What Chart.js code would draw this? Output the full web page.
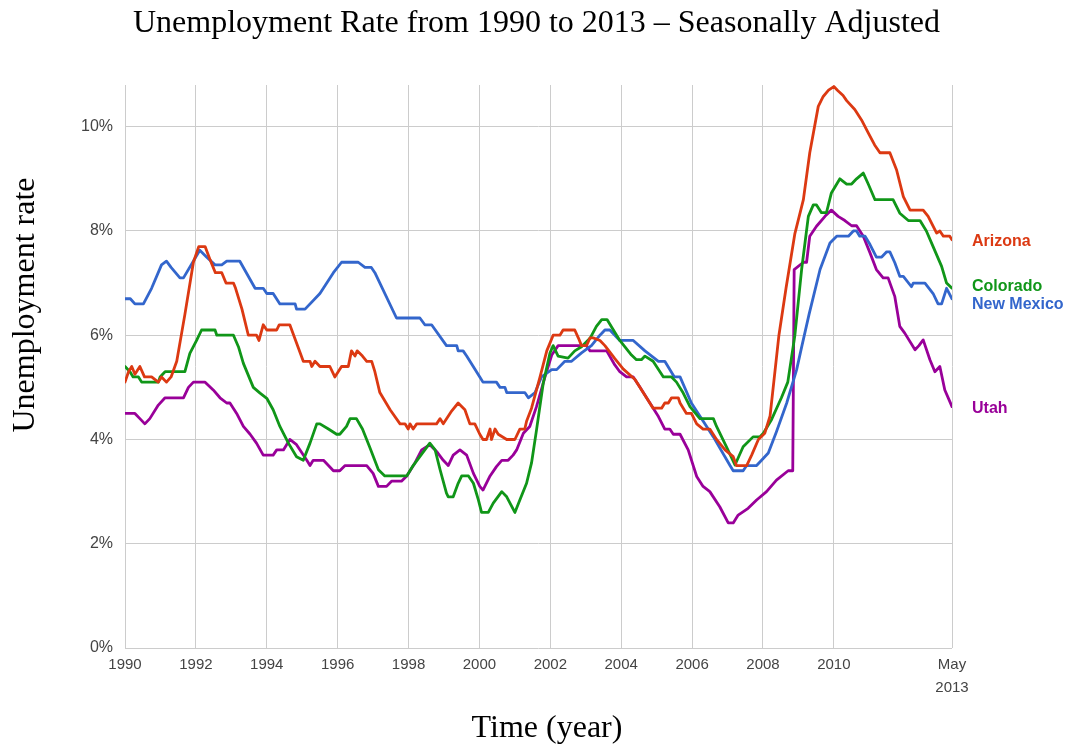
<!DOCTYPE html>
<html><head><meta charset="utf-8">
<script src="https://cdn.jsdelivr.net/npm/chart.js@4.4.0/dist/chart.umd.min.js"></script>
<style>html,body{margin:0;padding:0;background:#fff;}#wrap{width:1073px;height:744px;position:relative;}</style>
</head><body><div id="wrap"><canvas id="c" width="1073" height="744"></canvas></div>
<script>
const chartTitle = 'Unemployment Rate from 1990 to 2013 \u2013 Seasonally Adjusted';
const xAxisTitle = 'Time (year)';
const yAxisTitle = 'Unemployment rate';
const seriesNames = ['Arizona', 'Colorado', 'New Mexico', 'Utah'];
const seriesColors = ['#dc3912', '#109618', '#3366cc', '#990099'];

const xTickValues = [1990, 1992, 1994, 1996, 1998, 2000, 2002, 2004, 2006, 2008, 2010, 2013.333];
const xTickLabels = ['1990', '1992', '1994', '1996', '1998', '2000', '2002', '2004', '2006', '2008', '2010', ['May', '2013']];
const yTickValues = [0, 2, 4, 6, 8, 10];
const yTickLabels = ['0%', '2%', '4%', '6%', '8%', '10%'];

const azYears = [1990.0,1990.1,1990.19,1990.28,1990.42,1990.55,1990.75,1990.94,1991.03,1991.17,1991.3,1991.46,1991.69,1991.93,1992.08,1992.26,1992.4,1992.55,1992.73,1992.85,1993.06,1993.12,1993.3,1993.48,1993.71,1993.78,1993.9,1994.0,1994.28,1994.35,1994.65,1994.84,1995.03,1995.22,1995.27,1995.36,1995.5,1995.78,1995.92,1996.11,1996.3,1996.39,1996.49,1996.55,1996.7,1996.82,1996.96,1997.05,1997.19,1997.48,1997.76,1997.9,1997.99,1998.04,1998.13,1998.23,1998.79,1998.89,1998.98,1999.22,1999.4,1999.59,1999.73,1999.87,2000.01,2000.1,2000.2,2000.3,2000.34,2000.44,2000.53,2000.77,2001.0,2001.14,2001.28,2001.33,2001.47,2001.71,2001.9,2002.08,2002.27,2002.36,2002.69,2002.79,2002.88,2003.02,2003.12,2003.21,2003.4,2003.54,2003.82,2004.06,2004.39,2004.62,2004.9,2005.14,2005.23,2005.33,2005.42,2005.61,2005.66,2005.84,2005.98,2006.13,2006.31,2006.5,2006.69,2006.93,2007.16,2007.25,2007.54,2007.68,2007.87,2008.05,2008.2,2008.45,2008.65,2008.9,2009.14,2009.32,2009.56,2009.7,2009.85,2010.0,2010.1,2010.26,2010.36,2010.59,2010.78,2010.97,2011.15,2011.3,2011.58,2011.77,2011.96,2012.15,2012.52,2012.66,2012.9,2012.99,2013.09,2013.27,2013.333];
const azRates = [5.1,5.3,5.4,5.25,5.4,5.2,5.2,5.1,5.2,5.1,5.2,5.5,6.4,7.4,7.7,7.7,7.45,7.2,7.2,7.0,7.0,6.9,6.5,6.0,6.0,5.9,6.2,6.1,6.1,6.2,6.2,5.85,5.5,5.5,5.4,5.5,5.4,5.4,5.2,5.4,5.4,5.7,5.6,5.7,5.6,5.5,5.5,5.3,4.9,4.57,4.3,4.3,4.2,4.3,4.2,4.3,4.3,4.4,4.3,4.55,4.7,4.57,4.3,4.3,4.1,4.0,4.0,4.2,4.0,4.2,4.1,4.0,4.0,4.2,4.2,4.35,4.6,5.2,5.7,6.0,6.0,6.1,6.1,5.95,5.8,5.8,5.95,5.95,5.9,5.8,5.55,5.35,5.15,4.9,4.6,4.6,4.7,4.7,4.8,4.8,4.7,4.5,4.5,4.3,4.2,4.2,4.0,3.8,3.67,3.5,3.5,3.7,4.0,4.12,4.45,6.0,6.9,7.95,8.6,9.5,10.39,10.58,10.7,10.77,10.7,10.6,10.5,10.33,10.13,9.88,9.65,9.5,9.5,9.17,8.66,8.4,8.4,8.28,7.96,8.0,7.9,7.9,7.83];

const coYears = [1990.0,1990.14,1990.23,1990.38,1990.47,1990.94,1990.99,1991.13,1991.69,1991.83,1992.02,1992.16,1992.54,1992.59,1993.06,1993.2,1993.34,1993.62,1993.81,1994.0,1994.18,1994.37,1994.61,1994.84,1995.03,1995.22,1995.41,1995.5,1995.74,1995.97,1996.06,1996.25,1996.35,1996.53,1996.7,1996.9,1997.15,1997.33,1997.95,1998.13,1998.6,1998.75,1998.89,1999.07,1999.12,1999.26,1999.4,1999.5,1999.69,1999.83,1999.97,2000.06,2000.25,2000.39,2000.63,2000.77,2001.0,2001.14,2001.33,2001.47,2001.61,2001.8,2001.99,2002.08,2002.22,2002.5,2002.69,2002.88,2003.12,2003.3,2003.45,2003.6,2003.78,2003.96,2004.29,2004.43,2004.57,2004.67,2004.9,2005.19,2005.42,2005.56,2005.75,2005.94,2006.22,2006.6,2006.69,2006.97,2007.21,2007.44,2007.72,2007.91,2008.01,2008.24,2008.52,2008.7,2008.9,2009.09,2009.28,2009.42,2009.51,2009.65,2009.79,2009.93,2010.17,2010.36,2010.5,2010.64,2010.83,2010.97,2011.16,2011.67,2011.86,2012.1,2012.43,2012.61,2012.8,2013.04,2013.18,2013.333];
const coRates = [5.4,5.3,5.2,5.2,5.1,5.1,5.2,5.3,5.3,5.65,5.9,6.1,6.1,6.0,6.0,5.78,5.46,5.0,4.89,4.79,4.57,4.25,3.93,3.67,3.6,3.93,4.3,4.3,4.2,4.1,4.1,4.25,4.4,4.4,4.2,3.86,3.42,3.3,3.3,3.5,3.93,3.8,3.42,2.97,2.9,2.9,3.16,3.3,3.3,3.16,2.84,2.6,2.6,2.78,3.0,2.9,2.6,2.84,3.16,3.55,4.18,5.08,5.66,5.8,5.6,5.56,5.7,5.78,5.94,6.17,6.3,6.3,6.1,5.9,5.62,5.53,5.53,5.6,5.5,5.2,5.2,5.1,4.89,4.63,4.4,4.4,4.25,3.86,3.51,3.86,4.05,4.05,4.12,4.38,4.8,5.1,6.0,7.26,8.28,8.5,8.5,8.35,8.35,8.73,9.0,8.9,8.9,9.0,9.11,8.9,8.6,8.6,8.34,8.2,8.2,8.0,7.7,7.32,7.0,6.9];

const nmYears = [1990.0,1990.15,1990.28,1990.52,1990.75,1991.03,1991.17,1991.3,1991.55,1991.65,1992.11,1992.3,1992.54,1992.73,1992.87,1993.24,1993.67,1993.9,1994.0,1994.18,1994.37,1994.8,1994.84,1995.08,1995.5,1995.88,1996.11,1996.58,1996.77,1996.95,1997.05,1997.66,1998.32,1998.46,1998.65,1999.07,1999.36,1999.4,1999.54,1999.64,2000.01,2000.1,2000.48,2000.58,2000.72,2000.77,2001.28,2001.38,2001.57,2001.75,2002.04,2002.18,2002.41,2002.6,2002.88,2003.16,2003.4,2003.54,2003.68,2003.96,2004.34,2004.67,2005.05,2005.23,2005.5,2005.66,2005.98,2006.36,2006.6,2007.07,2007.16,2007.44,2007.54,2007.82,2007.96,2008.15,2008.38,2008.67,2008.95,2009.1,2009.3,2009.61,2009.89,2010.08,2010.41,2010.55,2010.64,2010.73,2010.88,2011.02,2011.2,2011.35,2011.49,2011.58,2011.72,2011.86,2011.96,2012.19,2012.24,2012.57,2012.8,2012.94,2013.04,2013.18,2013.333];
const nmRates = [6.7,6.7,6.6,6.6,6.9,7.35,7.42,7.3,7.1,7.1,7.63,7.5,7.35,7.35,7.42,7.42,6.9,6.9,6.8,6.8,6.6,6.6,6.5,6.5,6.8,7.2,7.4,7.4,7.3,7.3,7.2,6.33,6.33,6.2,6.2,5.8,5.8,5.7,5.7,5.6,5.2,5.1,5.1,5.0,5.0,4.9,4.9,4.8,4.9,5.2,5.34,5.34,5.5,5.5,5.66,5.8,6.0,6.1,6.1,5.9,5.9,5.7,5.5,5.5,5.2,5.2,4.7,4.3,4.05,3.5,3.4,3.4,3.5,3.5,3.6,3.74,4.15,4.7,5.34,5.8,6.4,7.26,7.77,7.9,7.9,8.0,8.0,7.9,7.9,7.74,7.5,7.5,7.6,7.6,7.39,7.13,7.13,6.93,7.0,7.0,6.8,6.6,6.6,6.9,6.7];

const utYears = [1990.0,1990.28,1990.42,1990.56,1990.7,1990.94,1991.13,1991.65,1991.79,1991.93,1992.26,1992.49,1992.68,1992.87,1992.96,1993.15,1993.34,1993.53,1993.71,1993.9,1994.18,1994.28,1994.47,1994.65,1994.84,1995.13,1995.22,1995.31,1995.6,1995.88,1996.06,1996.21,1996.82,1997.0,1997.15,1997.38,1997.52,1997.8,1997.95,1998.18,1998.37,1998.6,1998.79,1998.98,1999.12,1999.26,1999.45,1999.64,1999.83,2000.01,2000.1,2000.3,2000.48,2000.63,2000.81,2000.95,2001.05,2001.24,2001.42,2001.61,2001.85,2002.04,2002.22,2003.02,2003.12,2003.59,2003.82,2003.96,2004.15,2004.34,2004.53,2004.81,2005.05,2005.23,2005.37,2005.47,2005.66,2005.89,2006.13,2006.31,2006.5,2006.78,2007.02,2007.16,2007.3,2007.58,2007.82,2008.1,2008.38,2008.71,2008.84,2008.88,2009.14,2009.23,2009.32,2009.51,2009.75,2009.93,2010.12,2010.31,2010.5,2010.64,2010.83,2011.02,2011.2,2011.39,2011.53,2011.72,2011.86,2012.0,2012.29,2012.4,2012.52,2012.71,2012.85,2012.99,2013.13,2013.333];
const utRates = [4.5,4.5,4.4,4.3,4.4,4.66,4.8,4.8,5.0,5.1,5.1,4.95,4.8,4.7,4.7,4.5,4.25,4.1,3.93,3.7,3.7,3.8,3.8,4.0,3.9,3.6,3.5,3.6,3.6,3.4,3.4,3.5,3.5,3.35,3.1,3.1,3.2,3.2,3.3,3.55,3.8,3.9,3.77,3.6,3.5,3.7,3.8,3.7,3.35,3.1,3.03,3.3,3.48,3.6,3.6,3.7,3.8,4.12,4.25,4.63,5.2,5.62,5.8,5.8,5.7,5.7,5.43,5.3,5.2,5.2,5.0,4.7,4.44,4.2,4.2,4.1,4.1,3.8,3.29,3.1,3.0,2.71,2.4,2.4,2.55,2.68,2.84,3.0,3.22,3.4,3.4,7.26,7.4,7.4,7.9,8.09,8.28,8.4,8.28,8.2,8.1,8.1,7.9,7.58,7.26,7.1,7.1,6.74,6.17,6.04,5.72,5.8,5.91,5.53,5.3,5.4,4.95,4.63];

const seriesYears = [azYears, coYears, nmYears, utYears];
const seriesRates = [azRates, coRates, nmRates, utRates];

const datasets = seriesNames.map((name, i) => ({
  label: name,
  data: seriesYears[i].map((yr, j) => ({x: yr, y: seriesRates[i][j]})),
  borderColor: seriesColors[i],
  backgroundColor: seriesColors[i],
  borderWidth: 2.8,
  pointRadius: 0,
  tension: 0,
  borderJoinStyle: 'round',
  borderCapStyle: 'round'
}));

const textPlugin = {
  id: 'textPlugin',
  afterDraw(chart) {
    const ctx = chart.ctx;
    const area = chart.chartArea;
    ctx.save();
    ctx.fillStyle = '#000';
    ctx.font = '32px "Liberation Serif", "Times New Roman", serif';
    ctx.textAlign = 'center';
    ctx.textBaseline = 'alphabetic';
    ctx.fillText(chartTitle, 536.5, 32);
    ctx.fillText(xAxisTitle, 547, 737);
    ctx.save();
    ctx.translate(34, 305);
    ctx.rotate(-Math.PI / 2);
    ctx.fillText(yAxisTitle, 0, 0);
    ctx.restore();
    const ys = chart.data.datasets.map(ds => chart.scales.y.getPixelForValue(ds.data[ds.data.length - 1].y));
    const order = ys.map((y, i) => i).sort((a, b) => ys[a] - ys[b]);
    const pos = order.map(i => ys[i]);
    const gap = 18;
    for (let iter = 0; iter < 20; iter++) {
      for (let k = 1; k < pos.length; k++) {
        const d = pos[k] - pos[k - 1];
        if (d < gap) {
          const shift = (gap - d) / 2;
          pos[k - 1] -= shift;
          pos[k] += shift;
        }
      }
    }
    ctx.font = 'bold 16px "Liberation Sans", Arial, sans-serif';
    ctx.textAlign = 'left';
    ctx.textBaseline = 'middle';
    order.forEach((i, k) => {
      ctx.fillStyle = seriesColors[i];
      ctx.fillText(seriesNames[i], area.right + 20, pos[k] + 2);
    });
    ctx.restore();
  }
};

new Chart(document.getElementById('c'), {
  type: 'line',
  data: {datasets},
  options: {
    responsive: false,
    animation: false,
    devicePixelRatio: 1,
    layout: {padding: {top: 85, right: 121, bottom: 0, left: 0}},
    plugins: {legend: {display: false}, title: {display: false}, tooltip: {enabled: false}},
    scales: {
      x: {
        type: 'linear',
        min: 1990,
        max: 2013.333,
        afterBuildTicks: s => { s.ticks = xTickValues.map(v => ({value: v})); },
        afterFit: s => { s.height = 96; },
        ticks: {
          autoSkip: false,
          maxRotation: 0,
          padding: 6,
          color: '#444',
          font: {family: '"Liberation Sans", Arial, sans-serif', size: 15, lineHeight: 1.5},
          callback: (v, i) => xTickLabels[i]
        },
        grid: {color: '#cccccc', lineWidth: 1, drawTicks: false},
        border: {display: false}
      },
      y: {
        type: 'linear',
        min: 0,
        max: 10.8,
        afterBuildTicks: s => { s.ticks = yTickValues.map(v => ({value: v})); },
        afterFit: s => { s.width = 125; },
        ticks: {
          padding: 12,
          color: '#444',
          font: {family: '"Liberation Sans", Arial, sans-serif', size: 16},
          callback: (v, i) => yTickLabels[i]
        },
        grid: {color: '#cccccc', lineWidth: 1, drawTicks: false},
        border: {display: false}
      }
    }
  },
  plugins: [textPlugin]
});
</script>
</body></html>
